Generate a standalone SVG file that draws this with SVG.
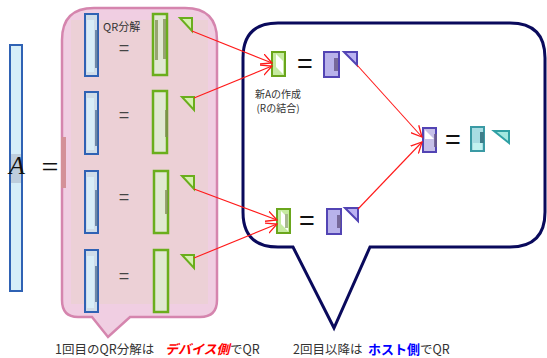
<svg xmlns="http://www.w3.org/2000/svg" width="547" height="358" viewBox="0 0 547 358">
<style>
text{font-family:"Noto Sans CJK JP","Liberation Sans",sans-serif;}
.lbl{font-size:10px;fill:#333;}
.bot{font-size:12.5px;fill:#333;}
.eqs{font-family:"Liberation Sans",sans-serif;font-size:18px;fill:#444;text-anchor:middle;}
.eqb{font-family:"Liberation Sans",sans-serif;font-size:27px;fill:#111;text-anchor:middle;}
.qb{fill:#cfdde9;stroke:#2f62b4;stroke-width:2;}
.qbl{fill:#d8eef8;}
.qbd{fill:#4c6c94;opacity:0.75;}
.qg{fill:#e1e8d2;stroke:#6aae1c;stroke-width:2.5;}
.qgd{fill:#7e8e52;opacity:0.75;}
.rg{fill:#d6f0b0;stroke:#6aae1c;stroke-width:2;stroke-linejoin:miter;}
.ag{fill:#c6eaa0;stroke:#6aa61c;stroke-width:2;}
.qp{fill:#b8b2ea;stroke:#5244b4;stroke-width:2;}
.qpd{fill:#6a5a8c;opacity:0.85;}
.rp{fill:#bab2f2;stroke:#5244b4;stroke-width:2;}
.conn line{stroke:#ff1a1a;stroke-width:1.1;fill:none;marker-end:url(#arr);}
</style>
<defs>
<marker id="arr" markerUnits="userSpaceOnUse" markerWidth="12" markerHeight="12" refX="10" refY="5" viewBox="0 0 11 10" orient="auto">
<path d="M0,0 L10,5 L0,10" fill="none" stroke="#ff1a1a" stroke-width="1.2"/>
</marker>
</defs>
<rect width="547" height="358" fill="#ffffff"/>

<g id="matrixA">
<rect x="10" y="45" width="12" height="246" fill="#d6eef8" stroke="#2f62b4" stroke-width="2"/>
<rect x="11" y="154" width="10" height="29" fill="#b8c6d4" opacity="0.8"/>
<text x="9" y="174" style="font-family:'Liberation Serif',serif;font-style:italic;font-size:26px;fill:#111;">A</text>
<text x="50" y="177" style="font-family:'Liberation Serif',serif;font-size:30px;fill:#111;text-anchor:middle;">=</text>
</g>

<g id="deviceCallout">
<path d="M92,317 L78,317 Q62,317 62,300 L62,40 Q62,8 94,8 L185,8 Q217,8 217,40 L217,300 Q217,317 200,317 L130,317 L108,337 Z" fill="#f0cee2" stroke="#d585ae" stroke-width="2.5"/>
<rect x="71" y="20" width="137" height="284" fill="#ecd0d6"/>
<rect x="61" y="137" width="5" height="51" fill="#d49098"/>
<text x="103" y="31" class="lbl" style="font-size:11px;">QR分解</text>
</g>

<g id="row1">
<rect x="85" y="14" width="13" height="62" class="qb"/>
<rect x="87" y="20" width="7" height="52" class="qbl"/>
<rect x="95" y="30" width="3" height="38" class="qbd"/>
<text x="124" y="54" class="eqs">=</text>
<rect x="153" y="14" width="14" height="61" class="qg"/>
<rect x="155" y="20" width="3" height="40" class="qgd"/>
<rect x="163" y="19" width="3" height="40" class="qgd" opacity="0.6"/>
<polygon points="180,18 192,18 192,31" class="rg"/>
</g>
<g id="row2">
<rect x="85" y="92" width="13" height="62" class="qb"/>
<rect x="87" y="98" width="7" height="52" class="qbl"/>
<rect x="95" y="110" width="3" height="36" class="qbd"/>
<text x="124" y="121" class="eqs">=</text>
<rect x="153" y="91" width="14" height="62" class="qg"/>
<rect x="165" y="110" width="3" height="27" class="qgd"/>
<polygon points="182,97 194,97 194,110" class="rg"/>
</g>
<g id="row3">
<rect x="85" y="171" width="13" height="62" class="qb"/>
<rect x="87" y="177" width="7" height="52" class="qbl"/>
<rect x="95" y="190" width="3" height="36" class="qbd"/>
<text x="124" y="203" class="eqs">=</text>
<rect x="154" y="171" width="14" height="62" class="qg"/>
<rect x="165" y="190" width="3" height="24" class="qgd"/>
<polygon points="182,176 194,176 194,189" class="rg"/>
</g>
<g id="row4">
<rect x="85" y="250" width="13" height="62" class="qb"/>
<rect x="87" y="256" width="7" height="52" class="qbl"/>
<rect x="95" y="266" width="3" height="36" class="qbd"/>
<text x="124" y="282" class="eqs">=</text>
<rect x="154" y="250" width="14" height="62" class="qg"/>
<polygon points="182,255 194,255 194,268" class="rg"/>
</g>

<g id="hostCallout">
<path d="M293,247 L278,247 Q243,247 243,212 L243,58 Q243,23 278,23 L510,23 Q545,23 545,58 L545,212 Q545,247 510,247 L370,247 L334,328 Z" fill="#ffffff" stroke="#0a0a5c" stroke-width="3" stroke-linejoin="miter"/>
</g>

<g id="newA1">
<rect x="272" y="52" width="13" height="24" class="ag"/>
<polygon points="276,54 283,61 283,74 276,67" fill="#ffffff"/>
<text x="305" y="73" class="eqb">=</text>
<rect x="324" y="52" width="15" height="25" class="qp"/>
<rect x="334" y="58" width="4" height="13" class="qpd"/>
<polygon points="344,52 357,52 357,65" class="rp"/>
<text x="278" y="98" class="lbl" text-anchor="middle">新Aの作成</text>
<text x="278" y="112" class="lbl" text-anchor="middle">(Rの結合)</text>
</g>

<g id="newA2">
<rect x="277" y="209" width="13" height="24" class="ag"/>
<polygon points="281,211 288,218 288,231 281,224" fill="#ffffff"/>
<rect x="285" y="214" width="3" height="14" fill="#a8b890"/>
<text x="307" y="230" class="eqb">=</text>
<rect x="327" y="209" width="14" height="25" class="qp"/>
<rect x="337" y="215" width="4" height="13" class="qpd"/>
<polygon points="345,208 358,208 358,221" class="rp"/>
</g>

<g id="final">
<rect x="423" y="128" width="13" height="24" fill="#c6c0e8" stroke="#5244b4" stroke-width="2"/>
<polygon points="425,130 434,139 425,139" fill="#ffffff"/>
<rect x="434" y="134" width="3" height="13" class="qpd"/>
<text x="453" y="149" class="eqb">=</text>
<rect x="471" y="127" width="13" height="24" fill="#a8dce2" stroke="#3a9aa4" stroke-width="2"/>
<rect x="473" y="143" width="9" height="7" fill="#c2f2f0"/>
<rect x="480" y="132" width="4" height="11" fill="#3e7e8a"/>
<polygon points="494,131 509,131 509,143" fill="#a2e8e0" stroke="#2fa0a4" stroke-width="2"/>
</g>

<g class="conn" id="connectors">
<line x1="192" y1="31" x2="272" y2="63"/>
<line x1="194" y1="98" x2="272" y2="66"/>
<line x1="194" y1="189" x2="277" y2="220"/>
<line x1="194" y1="258" x2="277" y2="224"/>
<line x1="357" y1="65" x2="422" y2="137"/>
<line x1="358" y1="209" x2="422" y2="142"/>
</g>

<g id="captions">
<text x="55" y="354" class="bot">1回目のQR分解は</text>
<text x="165" y="354" style="font-size:13px;font-weight:bold;fill:#ff0000;font-style:italic;">デバイス側</text>
<text x="230" y="354" class="bot">でQR</text>
<text x="293" y="354" class="bot">2回目以降は</text>
<text x="368" y="354" style="font-size:13px;font-weight:bold;fill:#0000ff;">ホスト側</text>
<text x="420" y="354" class="bot">でQR</text>
</g>
</svg>
